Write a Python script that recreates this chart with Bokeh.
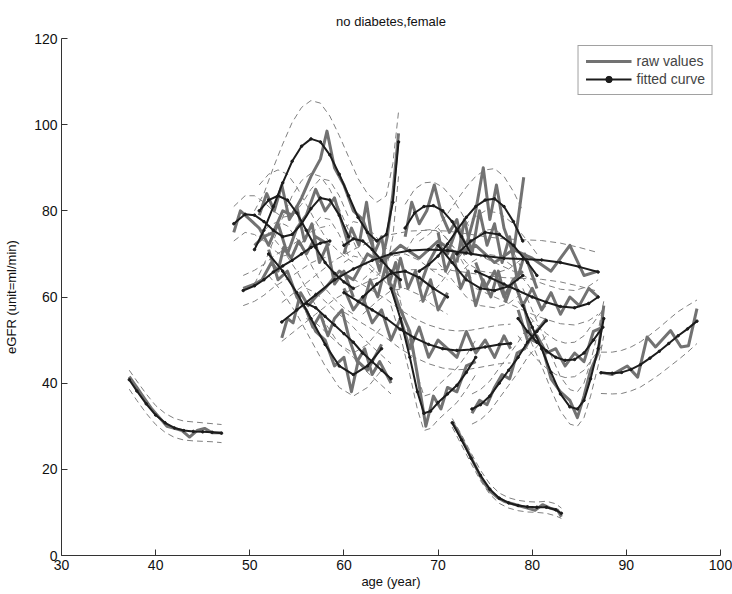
from bokeh.plotting import figure
from bokeh.models import Range1d, Legend, LegendItem, FixedTicker
from bokeh.embed import file_html
from bokeh.resources import INLINE

# ---------------- data (age in years, eGFR) ----------------
title_text = "no diabetes,female"
x_ticks = [30, 40, 50, 60, 70, 80, 90, 100]
y_ticks = [0, 20, 40, 60, 80, 100, 120]

p1_raw_x = [37.2, 38, 38.8, 39.6, 40.4, 41.2, 42, 42.8, 43.6, 44.4, 45.2, 46, 47]
p1_raw_y = [41.5, 39, 36.5, 34, 32, 30, 29.5, 29, 27.5, 29, 29.5, 28.5, 28.5]
p1_fit_x = [37.2, 38, 39, 40, 41, 42, 43, 44, 45, 46, 47]
p1_fit_y = [40.8, 38.2, 35.2, 32.6, 30.8, 29.6, 29.0, 28.8, 28.7, 28.6, 28.4]
p1_up = [43, 40.5, 37.5, 34.8, 33, 31.8, 31.2, 31, 30.8, 30.6, 30.4]
p1_lo = [38.6, 36, 33, 30.4, 28.6, 27.4, 26.8, 26.6, 26.5, 26.4, 26.2]

p2_raw_x = [71.5, 72.3, 73.1, 73.9, 74.7, 75.5, 76.3, 77.1, 77.9, 78.7, 79.5, 80.3, 81.1, 81.9, 82.7, 83.1]
p2_raw_y = [31, 28, 24.5, 21, 17.5, 15, 13.5, 12.5, 12, 11.5, 11, 10.5, 11.8, 11, 10.5, 9]
p2_fit_x = [71.5, 72.5, 73.5, 74.5, 75.5, 76.5, 77.5, 78.5, 79.5, 80.5, 81.5, 82.5, 83.1]
p2_fit_y = [30.8, 26.8, 22.6, 18.6, 15.4, 13.3, 12.2, 11.6, 11.3, 11.2, 11.2, 10.6, 9.8]
p2_up = [31.8, 28, 23.8, 19.8, 16.6, 14.5, 13.4, 12.8, 12.5, 12.4, 12.6, 12, 11]
p2_lo = [29.8, 25.6, 21.4, 17.4, 14.2, 12.1, 11, 10.4, 10.1, 10, 9.8, 9.2, 8.6]

p3_raw_x = [87.3, 88.5, 89.3, 90.1, 91.2, 92.2, 93.1, 94.7, 95.8, 96.6, 97.5]
p3_raw_y = [42.5, 42, 43, 44, 41.4, 50.7, 48.4, 52.2, 48.4, 48.7, 57.3]
p3_fit_x = [87.3, 88.5, 89.5, 90.5, 91.5, 92.5, 93.5, 94.5, 95.5, 96.5, 97.5]
p3_fit_y = [42.4, 42.3, 42.5, 43.2, 44.3, 45.8, 47.4, 49.2, 51, 52.6, 54.4]
p3_up = [47.2, 47.2, 47.6, 48.4, 49.6, 51.2, 52.9, 54.8, 56.6, 58, 59.3]
p3_lo = [37.6, 37.5, 37.6, 38.2, 39.1, 40.5, 42, 43.7, 45.4, 47.2, 49.2]

p4_raw_x = [48.3, 49, 50, 51, 52, 53, 54, 55, 56, 57, 58, 59, 60.5]
p4_raw_y = [75, 80, 78, 76, 72, 77, 70, 76, 79, 85, 80, 83, 72]
p4_fit_x = [48.3, 49.5, 50.5, 51.5, 52.5, 53.5, 54.5, 55.5, 56.5, 57.5, 58.5, 59.5, 60.5]
p4_fit_y = [77, 79.2, 79, 77.5, 75.5, 74, 74.5, 77, 80.5, 83, 82.5, 79, 74]
p4_up = [81, 83.5, 83.5, 82, 80, 78.5, 79, 81.5, 85, 87.5, 87, 83.5, 78.5]
p4_lo = [73, 75, 74.5, 73, 71, 69.5, 70, 72.5, 76, 78.5, 78, 74.5, 69.5]

p5_raw_x = [50.5, 51.5, 52.5, 53.5, 54.5, 55.5, 56.5, 57.5, 58.2, 59, 60, 61, 62, 63, 63.8, 64.6, 65.2, 65.8]
p5_raw_y = [72, 74, 75, 80, 79, 83, 88, 92, 98.5, 90, 86, 80, 78, 72, 66, 74, 84, 98]
p5_fit_x = [50.5, 51.5, 52.5, 53.5, 54.5, 55.5, 56.5, 57.5, 58.5, 59.5, 60.5, 61.5, 62.5, 63.5, 64.5, 65.2, 65.8]
p5_fit_y = [71, 75.5, 81, 86.5, 91.5, 95, 96.7, 96, 93, 88.5, 83.5, 78.5, 75, 73, 74.5, 82, 96]
p5_up = [80, 84, 90, 95.5, 100.5, 104, 105.6, 105, 102, 97.5, 92.5, 87.5, 84, 82, 83.5, 91, 103]
p5_lo = [63, 67.5, 73, 78.5, 83.5, 87, 88.7, 88, 85, 80.5, 75.5, 70.5, 67, 65, 66.5, 74, 88]

p6_raw_x = [49.3, 50.5, 51.3, 52.3, 53, 53.6, 54.4, 55.2, 56, 57, 58.5]
p6_raw_y = [62, 63, 64, 68, 66, 71.5, 69, 73, 70, 74, 72]
p6_fit_x = [49.3, 50.5, 51.5, 52.5, 53.5, 54.5, 55.5, 56.5, 57.5, 58.5]
p6_fit_y = [61.5, 62.6, 64, 65.8, 67.2, 68.5, 70, 71.5, 72.5, 73]
p6_up = [65, 66.2, 67.6, 69.4, 70.8, 72.1, 73.6, 75.1, 76.1, 76.6]
p6_lo = [58, 59, 60.4, 62.2, 63.6, 64.9, 66.4, 67.9, 68.9, 69.4]

p7_raw_x = [53.4, 54, 54.6, 55.4, 56.2, 57, 58, 59.5, 61, 62.5, 64, 66, 68, 70, 72, 74, 76, 78, 80, 82, 84, 85.5, 87]
p7_raw_y = [50.5, 55, 54, 61, 58, 60, 62, 66, 64, 70, 68, 72, 69, 73, 70, 72, 68, 71, 69, 66, 72, 65, 66]
p7_fit_x = [53.4, 55, 57, 59, 61, 63, 65, 67, 69, 71, 73, 75, 77, 79, 81, 83, 85, 87]
p7_fit_y = [54.2, 57, 60.5, 64, 66.5, 68.5, 70, 70.8, 71, 70.8, 70.2, 69.5, 69, 68.8, 68.6, 68, 67, 65.8]
p7_up = [58.7, 61.5, 65, 68.5, 71, 73, 74.5, 75.3, 75.5, 75.3, 74.7, 74, 73.5, 73.3, 73.1, 72.5, 71.5, 70.3]
p7_lo = [49.7, 52.5, 56, 59.5, 62, 64, 65.5, 66.3, 66.5, 66.3, 65.7, 65, 64.5, 64.3, 64.1, 63.5, 62.5, 61.3]

p8_raw_x = [56, 56.7, 57.5, 58.3, 59, 59.8, 60.6, 61.4, 62.2, 63, 63.8, 65]
p8_raw_y = [57, 53, 56, 51, 55, 57, 50, 45, 48, 42, 45, 40]
p8_fit_x = [56, 57, 58, 59, 60, 61, 62, 63, 64, 65]
p8_fit_y = [58.5, 57.5, 55.5, 53.5, 51.5, 49.5, 47, 45, 43, 41]
p8_up = [62, 61, 59, 57, 55, 53, 50.5, 48.5, 46.5, 44.5]
p8_lo = [55, 54, 52, 50, 48, 46, 43.5, 41.5, 39.5, 37.5]

p9_raw_x = [52, 53, 54, 55, 56, 57, 58, 59, 60, 60.8, 61.5, 62.5, 64]
p9_raw_y = [71, 64, 66, 60, 57, 52, 50, 44, 46, 38, 45, 43, 49]
p9_fit_x = [52, 53.5, 55, 56.5, 58, 59.5, 61, 62.5, 64]
p9_fit_y = [70, 66, 61, 55, 49, 44, 42, 44, 48]
p9_up = [75, 71, 66, 60, 54, 49, 47, 49, 53]
p9_lo = [65, 61, 56, 50, 44, 39, 37, 39, 43]

p10_raw_x = [60, 61, 62, 63, 64, 65, 66, 67, 68, 69, 70, 71, 72, 73, 74, 75, 76, 77, 77.7]
p10_raw_y = [62, 57, 60, 54, 57, 50, 55, 48, 53, 46, 50, 48, 46, 52, 47, 50, 46, 51, 48]
p10_fit_x = [60, 61.5, 63, 64.5, 66, 67.5, 69, 70.5, 72, 73.5, 75, 76.5, 77.7]
p10_fit_y = [61, 59, 57, 55, 52.5, 50.5, 49, 48, 47.6, 47.8, 48.4, 49, 49.2]
p10_up = [65.5, 63.5, 61.5, 59.5, 57, 55, 53.5, 52.5, 52.1, 52.3, 52.9, 53.5, 53.7]
p10_lo = [56.5, 54.5, 52.5, 50.5, 48, 46, 44.5, 43.5, 43.1, 43.3, 43.9, 44.5, 44.7]

p11_raw_x = [65, 66, 67, 67.8, 68.7, 69.5, 70.3, 71, 72, 73, 74]
p11_raw_y = [63, 57, 52, 42, 30, 37, 34, 39, 38, 44, 45]
p11_fit_x = [65, 66, 67, 67.8, 68.5, 69.2, 70, 71, 72, 73, 74]
p11_fit_y = [62, 55, 46, 38, 33, 33.5, 35.5, 37.5, 39.5, 42.5, 46]
p11_up = [66, 59, 50, 42, 37, 37.5, 39.5, 41.5, 43.5, 46.5, 50]
p11_lo = [58, 51, 42, 34, 29, 29.5, 31.5, 33.5, 35.5, 38.5, 42]

p12_raw_x = [73.6, 74.4, 75.2, 76, 76.8, 77.6, 78.4, 79.2, 80, 80.8, 81.5]
p12_raw_y = [33, 36, 35, 39, 42, 41, 47, 48, 51, 53, 55]
p12_fit_x = [73.6, 74.5, 75.5, 76.5, 77.5, 78.5, 79.5, 80.5, 81.5]
p12_fit_y = [34, 35, 37, 40, 43, 46, 49.5, 52, 54.5]
p12_up = [37.5, 38.5, 40.5, 43.5, 46.5, 49.5, 53, 55.5, 58]
p12_lo = [30.5, 31.5, 33.5, 36.5, 39.5, 42.5, 46, 48.5, 51]

p13_raw_x = [79, 80, 81, 82, 83, 84, 84.8, 85.5, 86.2, 87, 87.6]
p13_raw_y = [59, 50, 49, 41, 38, 36, 32, 37, 43, 47, 58]
p13_fit_x = [79, 80, 81, 82, 83, 84, 84.8, 85.5, 86.2, 87, 87.6]
p13_fit_y = [58, 53, 48, 42.5, 37.5, 34.5, 34, 36, 41, 48, 55]
p13_up = [62, 57, 52, 46.5, 41.5, 38.5, 38, 40, 45, 52, 59]
p13_lo = [54, 49, 44, 38.5, 33.5, 30.5, 30, 32, 37, 44, 51]

p14_raw_x = [78.5, 79.5, 80.5, 81.5, 82.5, 83.5, 84.5, 85.5, 86.5, 87.5]
p14_raw_y = [57, 50, 51, 47, 48, 44, 47, 45, 52, 53]
p14_fit_x = [78.5, 79.5, 80.5, 81.5, 82.5, 83.5, 84.5, 85.5, 86.5, 87.5]
p14_fit_y = [55, 52, 49.5, 47.5, 46, 45.3, 45.5, 47, 50, 53]
p14_up = [59, 56, 53.5, 51.5, 50, 49.3, 49.5, 51, 54, 57]
p14_lo = [51, 48, 45.5, 43.5, 42, 41.3, 41.5, 43, 46, 49]

p15_raw_x = [74, 75, 76, 77, 78, 79, 80, 81, 82, 83, 84, 85, 86, 87]
p15_raw_y = [68, 62, 66, 60, 64, 58, 62, 57, 61, 56, 60, 58, 62, 60]
p15_fit_x = [74, 75.5, 77, 78.5, 80, 81.5, 83, 84.5, 86, 87]
p15_fit_y = [66, 64.5, 63, 61.5, 60, 58.8, 57.8, 57.5, 58.5, 60]
p15_up = [70, 68.5, 67, 65.5, 64, 62.8, 61.8, 61.5, 62.5, 64]
p15_lo = [62, 60.5, 59, 57.5, 56, 54.8, 53.8, 53.5, 54.5, 56]

p16_raw_x = [68, 69, 70, 71, 72, 73, 74, 74.8, 75.5, 76.2, 77, 78, 79.1]
p16_raw_y = [62, 68, 72, 70, 76, 72, 80, 90, 78, 86, 76, 70, 87.8]
p16_fit_x = [68, 69, 70, 71, 72, 73, 74, 75, 76, 77, 78, 79]
p16_fit_y = [66, 67.5, 69.5, 72.3, 75.5, 78.5, 81, 82.5, 82.8, 81, 77.5, 73]
p16_up = [73, 74.5, 76.5, 79.3, 82.5, 85.5, 88, 89.5, 89.8, 88, 84.5, 80]
p16_lo = [59, 60.5, 62.5, 65.3, 68.5, 71.5, 74, 75.5, 75.8, 74, 70.5, 66]

p17_raw_x = [66.5, 67.2, 68, 68.8, 69.6, 70.4, 71.2, 72, 72.8, 73.5]
p17_raw_y = [74, 82, 77, 80, 86, 79, 75, 78, 70, 72]
p17_fit_x = [66.5, 67.5, 68.5, 69.5, 70.5, 71.5, 72.5, 73.5]
p17_fit_y = [76, 79.5, 81, 81.2, 80, 77.5, 74, 70]
p17_up = [81.5, 85, 86.5, 86.7, 85.5, 83, 79.5, 75.5]
p17_lo = [70.5, 74, 75.5, 75.7, 74.5, 72, 68.5, 64.5]

p18_raw_x = [51, 51.8, 52.6, 53.4, 54.2, 55, 55.8, 56.6, 57.4, 58.2, 59, 60, 61]
p18_raw_y = [79, 84, 80, 86, 78, 81, 73, 77, 68, 72, 63, 66, 60]
p18_fit_x = [51, 52, 53, 54, 55, 56, 57, 58, 59, 60, 61]
p18_fit_y = [80, 82.5, 83.5, 82.5, 79.5, 75.5, 71.5, 68, 65.5, 63.5, 62]
p18_up = [86, 88.5, 89.5, 88.5, 85.5, 81.5, 77.5, 74, 71.5, 69.5, 68]
p18_lo = [74, 76.5, 77.5, 76.5, 73.5, 69.5, 65.5, 62, 59.5, 57.5, 56]

p19_raw_x = [70, 70.8, 71.6, 72.4, 73.2, 74, 74.8, 75.6, 76.4, 77.2, 78, 79]
p19_raw_y = [75, 66, 70, 62, 66, 58, 64, 60, 66, 59, 64, 66]
p19_fit_x = [70, 71.5, 73, 74.5, 76, 77.5, 79]
p19_fit_y = [72, 68, 64, 62, 61.5, 62.5, 65]
p19_up = [76, 72, 68, 66, 65.5, 66.5, 69]
p19_lo = [68, 64, 60, 58, 57.5, 58.5, 61]

p20_raw_x = [60, 60.8, 61.6, 62.4, 63.2, 64, 64.8, 65.5, 66]
p20_raw_y = [70, 76, 72, 82, 70, 74, 63, 68, 62]
p20_fit_x = [60, 61, 62, 63, 64, 65, 66]
p20_fit_y = [72, 73.5, 73, 71, 68.5, 66, 64]
p20_up = [76, 77.5, 77, 75, 72.5, 70, 68]
p20_lo = [68, 69.5, 69, 67, 64.5, 62, 60]

p21_raw_x = [62, 62.8, 63.6, 64.4, 65.2, 66, 66.8, 67.6, 68.4, 69.2, 70, 71]
p21_raw_y = [58, 64, 60, 67, 61, 69, 62, 66, 59, 64, 57, 61]
p21_fit_x = [62, 63.5, 65, 66.5, 68, 69.5, 71]
p21_fit_y = [60, 63, 65.5, 66, 64.5, 62, 60]
p21_up = [64, 67, 69.5, 70, 68.5, 66, 64]
p21_lo = [56, 59, 61.5, 62, 60.5, 58, 56]

p22_raw_x = [72, 72.8, 73.6, 74.4, 75.2, 76, 76.8, 77.6, 78.4, 79.2, 80.5]
p22_raw_y = [68, 78, 70, 80, 72, 77, 68, 74, 64, 70, 62]
p22_fit_x = [72, 73.5, 75, 76.5, 78, 79.5, 80.5]
p22_fit_y = [70, 73, 75, 74.5, 72, 68, 65]
p22_up = [75, 78, 80, 79.5, 77, 73, 70]
p22_lo = [65, 68, 70, 69.5, 67, 63, 60]

patients = [
    (p1_raw_x, p1_raw_y, p1_fit_x, p1_fit_y, p1_up, p1_lo),
    (p2_raw_x, p2_raw_y, p2_fit_x, p2_fit_y, p2_up, p2_lo),
    (p3_raw_x, p3_raw_y, p3_fit_x, p3_fit_y, p3_up, p3_lo),
    (p4_raw_x, p4_raw_y, p4_fit_x, p4_fit_y, p4_up, p4_lo),
    (p5_raw_x, p5_raw_y, p5_fit_x, p5_fit_y, p5_up, p5_lo),
    (p6_raw_x, p6_raw_y, p6_fit_x, p6_fit_y, p6_up, p6_lo),
    (p7_raw_x, p7_raw_y, p7_fit_x, p7_fit_y, p7_up, p7_lo),
    (p8_raw_x, p8_raw_y, p8_fit_x, p8_fit_y, p8_up, p8_lo),
    (p9_raw_x, p9_raw_y, p9_fit_x, p9_fit_y, p9_up, p9_lo),
    (p10_raw_x, p10_raw_y, p10_fit_x, p10_fit_y, p10_up, p10_lo),
    (p11_raw_x, p11_raw_y, p11_fit_x, p11_fit_y, p11_up, p11_lo),
    (p12_raw_x, p12_raw_y, p12_fit_x, p12_fit_y, p12_up, p12_lo),
    (p13_raw_x, p13_raw_y, p13_fit_x, p13_fit_y, p13_up, p13_lo),
    (p14_raw_x, p14_raw_y, p14_fit_x, p14_fit_y, p14_up, p14_lo),
    (p15_raw_x, p15_raw_y, p15_fit_x, p15_fit_y, p15_up, p15_lo),
    (p16_raw_x, p16_raw_y, p16_fit_x, p16_fit_y, p16_up, p16_lo),
    (p17_raw_x, p17_raw_y, p17_fit_x, p17_fit_y, p17_up, p17_lo),
    (p18_raw_x, p18_raw_y, p18_fit_x, p18_fit_y, p18_up, p18_lo),
    (p19_raw_x, p19_raw_y, p19_fit_x, p19_fit_y, p19_up, p19_lo),
    (p20_raw_x, p20_raw_y, p20_fit_x, p20_fit_y, p20_up, p20_lo),
    (p21_raw_x, p21_raw_y, p21_fit_x, p21_fit_y, p21_up, p21_lo),
    (p22_raw_x, p22_raw_y, p22_fit_x, p22_fit_y, p22_up, p22_lo),
]

# ---------------- figure ----------------
FONT = "Liberation Sans"
RAW_C = "#727272"
FIT_C = "#1c1c1c"
BAND_C = "#808080"

p = figure(width=732, height=594, x_range=Range1d(30, 100), y_range=Range1d(0, 120),
           output_backend="svg", toolbar_location=None,
           min_border_left=61, min_border_right=12, min_border_top=38, min_border_bottom=39,
           title=title_text)
p.background_fill_color = "white"
p.border_fill_color = "white"
p.outline_line_color = None
p.grid.visible = False

p.title.align = "center"
p.title.text_font = FONT
p.title.text_font_size = "13px"
p.title.text_font_style = "normal"
p.title.text_color = "#111111"
p.title.standoff = 20

for ax in (p.xaxis[0], p.yaxis[0]):
    ax.major_tick_in = 6
    ax.major_tick_out = 0
    ax.minor_tick_line_color = None
    ax.axis_line_color = "#333333"
    ax.major_tick_line_color = "#333333"
    ax.major_label_text_font = FONT
    ax.major_label_text_font_size = "14px"
    ax.major_label_text_color = "#111111"
    ax.axis_label_text_font = FONT
    ax.axis_label_text_font_size = "13px"
    ax.axis_label_text_font_style = "normal"
    ax.axis_label_text_color = "#111111"

p.xaxis.ticker = FixedTicker(ticks=x_ticks)
p.yaxis.ticker = FixedTicker(ticks=y_ticks)
p.xaxis.axis_label = "age (year)"
p.yaxis.axis_label = "eGFR (unit=ml/min)"
p.xaxis.major_label_standoff = 4
p.xaxis.axis_label_standoff = 1
p.yaxis.major_label_standoff = 4
p.yaxis.axis_label_standoff = 12

# bands
for rx, ry, fx, fy, up, lo in patients:
    p.line(fx, up, line_color=BAND_C, line_width=1, line_dash="6 4")
    p.line(fx, lo, line_color=BAND_C, line_width=1, line_dash="6 4")

raw_r = None
fit_r = None
dot_r = None
for rx, ry, fx, fy, up, lo in patients:
    r = p.line(rx, ry, line_color=RAW_C, line_width=3, line_join="round")
    if raw_r is None:
        raw_r = r
for rx, ry, fx, fy, up, lo in patients:
    f = p.line(fx, fy, line_color=FIT_C, line_width=2)
    d = p.scatter(fx, fy, size=2.5, fill_color=FIT_C, line_color=FIT_C)
    if fit_r is None:
        fit_r, dot_r = f, d

legend = Legend(items=[LegendItem(label="raw values", renderers=[raw_r]),
                       LegendItem(label="fitted curve", renderers=[fit_r, dot_r])],
                location="top_right")
legend.border_line_color = "#444444"
legend.border_line_width = 1
legend.background_fill_color = "white"
legend.background_fill_alpha = 1
legend.label_text_font = FONT
legend.label_text_font_size = "14px"
legend.glyph_width = 46
legend.glyph_height = 16
legend.spacing = 2
legend.padding = 7
legend.margin = 7
legend.label_standoff = 5
p.add_layout(legend)

open("out.html", "w").write(file_html(p, INLINE))
